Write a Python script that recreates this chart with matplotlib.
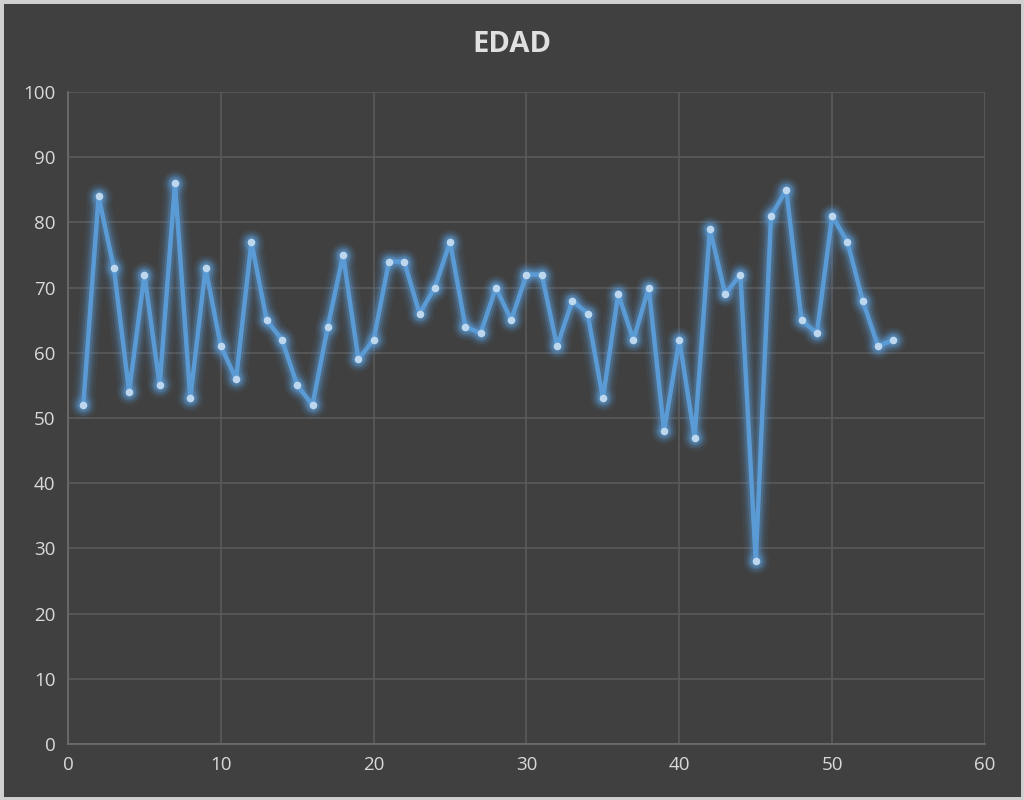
import numpy as np
import matplotlib
matplotlib.use("Agg")
import matplotlib.pyplot as plt

###############################################

x = list(range(1, 55))
edad = [52, 84, 73, 54, 72, 55, 86, 53, 73, 61,
        56, 77, 65, 62, 55, 52, 64, 75, 59, 62,
        74, 74, 66, 70, 77, 64, 63, 70, 65, 72,
        72, 61, 68, 66, 53, 69, 62, 70, 48, 62,
        47, 79, 69, 72, 28, 81, 85, 65, 63, 81,
        77, 68, 61, 62]

x_ticks = [0, 10, 20, 30, 40, 50, 60]
y_ticks = [0, 10, 20, 30, 40, 50, 60, 70, 80, 90, 100]

###############################################

bg = '#404040'
line_c = '#5b9bd5'

plt.rcParams['font.family'] = ['Open Sans', 'DejaVu Sans']

fig = plt.figure(figsize=(10.24, 8), dpi=100)
fig.patch.set_facecolor(bg)
ax = fig.add_axes([0.0664, 0.07, 0.8955, 0.815])
ax.set_facecolor(bg)

# glow
for lw, a in [(16, 0.07), (12, 0.10), (9, 0.16), (6.5, 0.25)]:
    ax.plot(x, edad, color=line_c, linewidth=lw, alpha=a,
            solid_capstyle='round', solid_joinstyle='round')
    ax.plot(x, edad, 'o', color=line_c, markersize=lw + 3, alpha=a,
            markeredgewidth=0)
ax.plot(x, edad, color=line_c, linewidth=3.2,
        solid_joinstyle='round', zorder=3)
ax.plot(x, edad, 'o', color='#bdd7ee', markersize=5.5,
        markeredgewidth=0, zorder=4)

ax.set_xlim(0, 60)
ax.set_ylim(0, 100)
ax.set_xticks(x_ticks)
ax.set_yticks(y_ticks)
ax.grid(True, color='#5c5c5c', linewidth=1.1)
ax.set_axisbelow(True)
for s in ['top', 'right']:
    ax.spines[s].set_visible(False)
for s in ['left', 'bottom']:
    ax.spines[s].set_color('#6e6e6e')
    ax.spines[s].set_linewidth(1.2)
ax.tick_params(colors='#d9d9d9', labelsize=13.5, length=0, pad=9)

fig.text(0.5, 0.944, 'EDAD', ha='center', va='center',
         fontsize=21, fontweight='bold', color='#e0e0e0')

# light frame round the chart
frame = plt.Rectangle((0, 0), 1, 1, transform=fig.transFigure,
                      fill=False, edgecolor='#d0d0d0', linewidth=5)
fig.patches.append(frame)

fig.savefig('out.png', dpi=100, facecolor=bg)
